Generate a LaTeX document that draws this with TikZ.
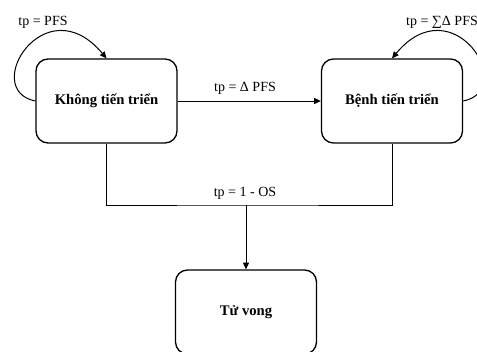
\documentclass[tikz,border=0pt]{standalone}
\usepackage{fontspec}
\setmainfont{Liberation Serif}
\usetikzlibrary{positioning,calc,arrows.meta}

\begin{document}
\begin{tikzpicture}[x=0.75pt,y=-0.75pt,
    state/.style={draw, rounded corners=9pt, line width=1pt, minimum width=105.75pt, minimum height=63pt, font=\fontsize{11}{13}\selectfont\bfseries},
    tp/.style={font=\fontsize{10.5}{12}\selectfont},
    >={Triangle[length=5pt,width=4.5pt]}]
        \clip (0,0) rectangle (477,351);

        %states
        \node[state] (kt) at (106.5, 101) {Không tiến triển};
        \node[state] (bt) at (392, 101) {Bệnh tiến triển};
        \node[state] (tv) at (246, 312) {Tử vong};

        %junction
        \coordinate (j) at (246, 205);

        % Draw the transitions
        \draw[->, line width=0.75pt] (kt) -- (bt);
        \draw[line width=0.75pt] (kt.south) |- (j) -| (bt.south);
        \draw[->, line width=0.75pt] (j) -- (tv);

        % Self loops
        \draw[->, line width=0.75pt] (kt.west) .. controls (-20, 90) and (45, -15) .. (kt.north);
        \draw[->, line width=0.75pt] (bt.east) .. controls (519, 90) and (453, -15) .. (bt.north);

        % Add transition probabilities
        \node[tp] (l1) at (43, 22) {tp = PFS};
        \node[tp] (l2) at (442, 22) {tp = ∑Δ PFS};
        \node[tp] (l3) at (245, 88) {tp = Δ PFS};
        \node[tp] (l4) at (245, 193) {tp = 1 - OS};

    \end{tikzpicture}
\end{document}
